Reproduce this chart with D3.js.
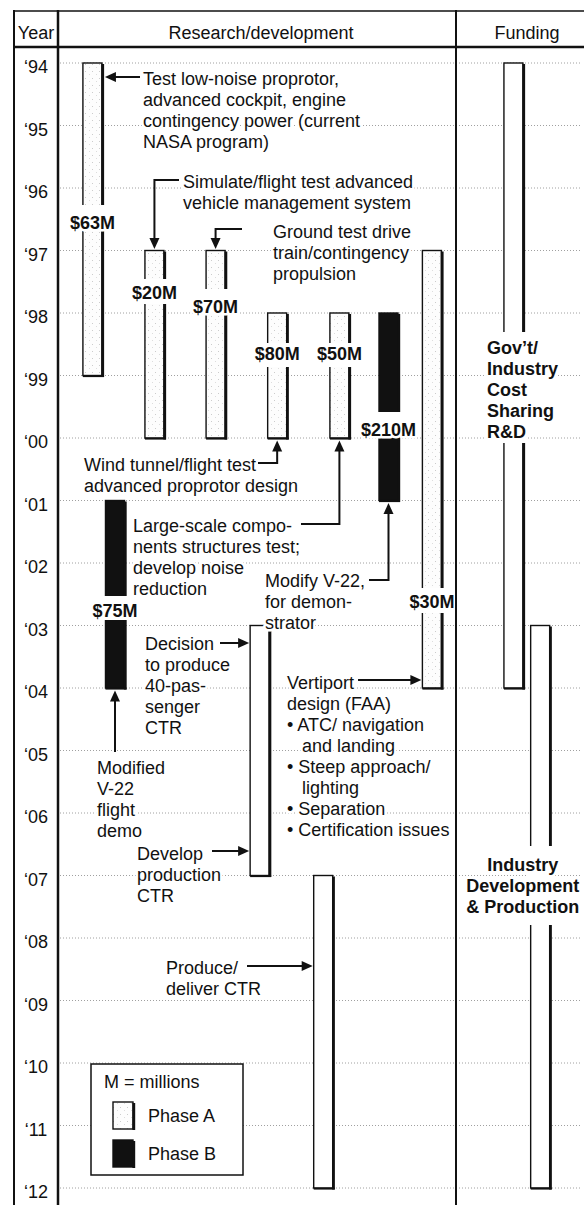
<!DOCTYPE html>
<html>
<head>
<meta charset="utf-8">
<script src="https://cdn.jsdelivr.net/npm/d3@7"></script>
<style>
body { margin: 0; background: #fff; }
svg { display: block; font-family: "Liberation Sans", Arial, Helvetica, sans-serif; }
.halo { stroke: #fff; stroke-width: 5px; paint-order: stroke; stroke-linejoin: round; }
</style>
</head>
<body>
<script>
// year rows
var years = [1994, 1995, 1996, 1997, 1998, 1999, 2000, 2001, 2002, 2003, 2004, 2005, 2006, 2007, 2008, 2009, 2010, 2011, 2012];
var yearLabels = ["‘94", "‘95", "‘96", "‘97", "‘98", "‘99", "‘00", "‘01", "‘02", "‘03", "‘04", "‘05", "‘06", "‘07", "‘08", "‘09", "‘10", "‘11", "‘12"];

// bars: research/development tasks, then the two funding bars
var barStart = [1994, 1997, 1997, 1998, 1998, 1998, 1997, 2001, 2003, 2007, 1994, 2003];
var barEnd   = [1999, 2000, 2000, 2000, 2000, 2001, 2004, 2004, 2007, 2012, 2004, 2012];
var barPhase = ["A", "A", "A", "A", "A", "B", "A", "B", "", "", "", ""];
var barLane  = [1.57, 4.4, 7.19, 10.0, 12.84, 15.08, 17.06, 2.6, 9.2, 12.1, 20.78, 22.0];
var barCost  = ["$63M", "$20M", "$70M", "$80M", "$50M", "$210M", "$30M", "$75M", "", "", "", ""];
var barCostAt = [1996.56, 1997.68, 1997.904, 1998.648, 1998.648, 1999.872, 2002.624, 2002.768, null, null, null, null];
var barGap = [[1996.272, 1996.672], [1997.456, 1997.856], [1997.616, 1998.0], [1998.48, 1998.864], [1998.48, 1998.864],
              [1999.584, 1999.984], [2002.4, 2002.8], [2002.528, 2002.912], null, null, [1998.304, 2000.08], [2006.528, 2007.792]];

// notes with arrows pointing at bars
var noteText = [
  ["Test low-noise proprotor,", "advanced cockpit, engine", "contingency power (current", "NASA program)"],
  ["Simulate/flight test advanced", "vehicle management system"],
  ["Ground test drive", "train/contingency", "propulsion"],
  ["Wind tunnel/flight test", "advanced proprotor design"],
  ["Large-scale compo-", "nents structures test;", "develop noise", "reduction"],
  ["Modify V-22,", "for demon-", "strator"],
  ["Decision", "to produce", "40-pas-", "senger", "CTR"],
  ["Modified", "V-22", "flight", "demo"],
  ["Develop", "production", "CTR"],
  ["Vertiport", "design (FAA)", "• ATC/ navigation", "  and landing", "• Steep approach/", "  lighting", "• Separation", "• Certification issues"],
  ["Produce/", "deliver CTR"]
];
var noteLane = [3.878, 5.703, 9.81, 1.186, 3.422, 9.444, 3.97, 1.779, 3.604, 10.45, 4.927];
var noteYear = [1994.256, 1995.904, 1996.704, 2000.432, 2001.408, 2002.288, 2003.296, 2005.28, 2006.656, 2003.92, 2008.48];
var arrowLane = [3.741, 5.521, 8.395, 9.125, 11.087, 14.19, 7.392, 2.6, 7.027, 13.69, 8.624];
var arrowYear = [1994.224, 1995.872, 1996.656, 2000.4, 2001.376, 2002.272, 2003.28, 2005.024, 2006.608, 2003.872, 2008.448];
var arrowKind = ["side", "top", "top", "bottom", "bottom", "bottom", "side", "bottom", "side", "side", "side"];
var arrowBar  = [0, 1, 2, 3, 4, 5, 8, 7, 8, 6, 9];

// funding labels
var fundText = [["Gov’t/", "Industry", "Cost", "Sharing", "R&D"], ["Industry", "Development", "& Production"]];
var fundLane = [19.57, 21.21];
var fundYear = [1998.56, 2006.832];
var fundAnchor = ["start", "middle"];

var W = 584, H = 1209;
var lineH = 21;
var barW = 19;

var svg = d3.select("body").append("svg").attr("width", W).attr("height", H);
svg.append("rect").attr("width", W).attr("height", H).attr("fill", "#fff");

var defs = svg.append("defs");
var pat = defs.append("pattern").attr("id", "stip").attr("width", 7).attr("height", 7)
  .attr("patternUnits", "userSpaceOnUse");
pat.append("rect").attr("width", 7).attr("height", 7).attr("fill", "#fdfdfd");
pat.append("rect").attr("x", 1).attr("y", 1).attr("width", 1).attr("height", 1).attr("fill", "#cccccc");
pat.append("rect").attr("x", 5).attr("y", 4).attr("width", 1).attr("height", 1).attr("fill", "#dddddd");

var y = d3.scaleLinear().domain([1994, 2012]).range([63, 1188]);
var x = d3.scaleLinear().domain([0, 24]).range([58, 584]);

// gridlines
svg.append("g").selectAll("line").data(years).enter().append("line")
  .attr("x1", 60).attr("x2", 582)
  .attr("y1", function(d) { return y(d); }).attr("y2", function(d) { return y(d); })
  .attr("stroke", "#a0a0a0").attr("stroke-width", 1).attr("stroke-dasharray", "1 2");

// year axis
var yAxis = d3.axisLeft(y).tickValues(years).tickSize(0).tickPadding(0)
  .tickFormat(function(d, i) { return yearLabels[i]; });
var ag = svg.append("g").attr("transform", "translate(36,0)").call(yAxis);
ag.select(".domain").remove();
ag.selectAll("text").attr("text-anchor", "middle").attr("x", 0).attr("y", 3.5)
  .attr("dy", "0.35em").style("font-size", "18px").attr("fill", "#111")
  .style("font-family", "'Liberation Sans', Arial, sans-serif");

var bars = barStart.map(function(s, i) {
  return { start: s, end: barEnd[i], phase: barPhase[i], lane: barLane[i],
           cost: barCost[i], costAt: barCostAt[i], gap: barGap[i] };
});

function fillFor(p) {
  if (p == "A") return "url(#stip)";
  if (p == "B") return "#111";
  return "#fff";
}

// bars
var bg = svg.append("g");
bars.forEach(function(b) {
  var cx = x(b.lane), x0 = cx - barW / 2, top = y(b.start), bot = y(b.end);
  bg.append("rect").attr("x", x0).attr("y", top).attr("width", barW).attr("height", bot - top)
    .attr("fill", fillFor(b.phase)).attr("stroke", "#111").attr("stroke-width", 1.4);
  bg.append("line").attr("x1", x0 + barW + 0.8).attr("x2", x0 + barW + 0.8)
    .attr("y1", top + 1).attr("y2", bot + 1.5).attr("stroke", "#111").attr("stroke-width", 2.8);
  bg.append("line").attr("x1", x0).attr("x2", x0 + barW + 2)
    .attr("y1", bot + 0.6).attr("y2", bot + 0.6).attr("stroke", "#111").attr("stroke-width", 2);
  if (b.gap) {
    bg.append("rect").attr("x", x0 - 4).attr("y", y(b.gap[0])).attr("width", barW + 9)
      .attr("height", y(b.gap[1]) - y(b.gap[0])).attr("fill", "#fff");
  }
  if (b.cost) {
    bg.append("text").attr("class", "halo").attr("x", cx).attr("y", y(b.costAt)).attr("dy", "0.35em")
      .attr("text-anchor", "middle").style("font-size", "18px").style("font-weight", "bold")
      .attr("fill", "#111").text(b.cost);
  }
});

// funding labels
fundText.forEach(function(lines, i) {
  var t = svg.append("text").attr("class", "halo").attr("text-anchor", fundAnchor[i])
    .style("font-size", "18px").style("font-weight", "bold").attr("fill", "#111");
  lines.forEach(function(l, j) {
    t.append("tspan").attr("x", x(fundLane[i])).attr("y", y(fundYear[i]) + j * lineH)
      .attr("dy", "0.35em").text(l);
  });
});

// notes
var ng = svg.append("g");
noteText.forEach(function(lines, i) {
  var t = ng.append("text").attr("class", "halo").style("font-size", "18px").attr("fill", "#111");
  lines.forEach(function(l, j) {
    var indent = l.indexOf("  ") == 0;
    t.append("tspan").attr("x", x(noteLane[i]) + (indent ? 15 : 0))
      .attr("y", y(noteYear[i]) + j * lineH).attr("dy", "0.35em").text(indent ? l.trim() : l);
  });
});

// arrows
var head = 11, hw = 5;
function arrowHead(tx, ty, dir) {
  var p;
  if (dir == "left") p = [[tx, ty], [tx + head, ty - hw], [tx + head, ty + hw]];
  if (dir == "right") p = [[tx, ty], [tx - head, ty - hw], [tx - head, ty + hw]];
  if (dir == "up") p = [[tx, ty], [tx - hw, ty + head], [tx + hw, ty + head]];
  if (dir == "down") p = [[tx, ty], [tx - hw, ty - head], [tx + hw, ty - head]];
  ng.append("path").attr("d", "M" + p.join("L") + "Z").attr("fill", "#111");
}
arrowKind.forEach(function(k, i) {
  var b = bars[arrowBar[i]];
  var cx = x(b.lane), x0 = x(arrowLane[i]), y0 = y(arrowYear[i]);
  var p = d3.path();
  p.moveTo(x0, y0);
  if (k == "side") {
    if (x0 > cx) {
      var tip = cx + barW / 2 + 3;
      p.lineTo(tip + head - 1, y0);
      arrowHead(tip, y0, "left");
    } else {
      var tip2 = cx - barW / 2 - 1;
      p.lineTo(tip2 - head + 1, y0);
      arrowHead(tip2, y0, "right");
    }
  } else if (k == "top") {
    var tt = y(b.start) - 1.5;
    p.lineTo(cx, y0);
    p.lineTo(cx, tt - head + 1);
    arrowHead(cx, tt, "down");
  } else {
    var tb = y(b.end) + 2.5;
    p.lineTo(cx, y0);
    p.lineTo(cx, tb + head - 1);
    arrowHead(cx, tb, "up");
  }
  ng.append("path").attr("d", p.toString()).attr("fill", "none")
    .attr("stroke", "#111").attr("stroke-width", 2);
});

// frame and header
var fg = svg.append("g").attr("stroke", "#111");
fg.append("line").attr("x1", 14).attr("x2", W).attr("y1", 11).attr("y2", 11).attr("stroke-width", 1.5);
fg.append("line").attr("x1", 14).attr("x2", W).attr("y1", 47).attr("y2", 47).attr("stroke-width", 2.5);
fg.append("line").attr("x1", 14).attr("x2", 14).attr("y1", 10).attr("y2", 1205).attr("stroke-width", 2);
fg.append("line").attr("x1", x(0)).attr("x2", x(0)).attr("y1", 10).attr("y2", 1205).attr("stroke-width", 2.5);
fg.append("line").attr("x1", 456).attr("x2", 456).attr("y1", 10).attr("y2", 1205).attr("stroke-width", 2);

var header = [["Year", 36], ["Research/development", 261], ["Funding", 527]];
header.forEach(function(h) {
  svg.append("text").attr("x", h[1]).attr("y", 33).attr("dy", "0.35em").attr("text-anchor", "middle")
    .style("font-size", "18px").attr("fill", "#111").text(h[0]);
});

// legend
var lg = svg.append("g").attr("transform", "translate(91,1064)");
lg.append("rect").attr("width", 152).attr("height", 111).attr("fill", "#fff")
  .attr("stroke", "#111").attr("stroke-width", 1.5);
lg.append("text").attr("x", 13).attr("y", 18).attr("dy", "0.35em").style("font-size", "18px")
  .attr("fill", "#111").text("M = millions");
[["A", "Phase A", 38], ["B", "Phase B", 76]].forEach(function(e) {
  lg.append("rect").attr("x", 22).attr("y", e[2]).attr("width", 20).attr("height", 27)
    .attr("fill", fillFor(e[0])).attr("stroke", "#111").attr("stroke-width", 1.4);
  lg.append("line").attr("x1", 42.8).attr("x2", 42.8).attr("y1", e[2] + 1).attr("y2", e[2] + 28)
    .attr("stroke", "#111").attr("stroke-width", 2.8);
  lg.append("text").attr("x", 57).attr("y", e[2] + 14).attr("dy", "0.35em").style("font-size", "18px")
    .attr("fill", "#111").text(e[1]);
});
</script>
</body>
</html>
